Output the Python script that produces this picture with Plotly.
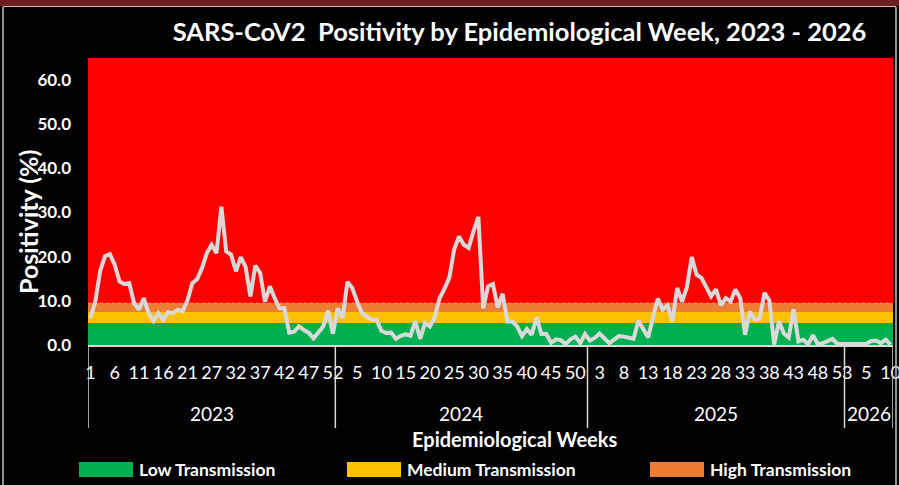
import plotly.graph_objects as go

# ---------------- data ----------------
years = ["2023", "2024", "2025", "2026"]
weeks_2023 = [w for w in range(1, 53) if w != 26]   # week 26 not reported
weeks_2024 = list(range(1, 53))
weeks_2025 = list(range(1, 54))
weeks_2026 = list(range(1, 11))

pos_2023 = [6.1, 9.8, 16.7, 20.1, 20.6, 18.2, 14.4, 13.8, 14.0, 9.5, 8.0, 10.6, 7.2,
            5.5, 7.2, 5.7, 7.4, 7.2, 8.0, 7.6, 10.0, 14.0, 14.9, 17.4, 20.8, 22.7,
            20.8, 31.3, 21.2, 20.5, 16.7, 19.9, 17.7, 11.0, 18.0, 16.3, 9.8, 13.3,
            10.6, 8.3, 8.3, 2.8, 3.0, 4.2, 3.4, 2.8, 1.5, 3.0, 4.2, 7.8, 2.6]
pos_2024 = [8.3, 6.1, 14.3, 12.9, 9.8, 7.2, 6.4, 5.7, 5.7, 3.2, 2.7, 2.8, 1.4, 2.1,
            2.4, 2.1, 5.4, 1.4, 5.0, 4.2, 6.3, 10.6, 12.7, 15.2, 21.6, 24.6, 22.7,
            22.0, 25.8, 29.0, 8.3, 13.3, 13.8, 8.5, 11.6, 5.3, 5.3, 4.2, 2.0, 3.6,
            2.3, 6.3, 2.5, 2.5, 0.5, 1.3, 1.1, 0.2, 1.3, 1.9, 0.4, 2.5]
pos_2025 = [1.0, 1.6, 2.6, 1.4, 0.4, 1.2, 2.0, 1.9, 1.6, 1.4, 5.5, 3.6, 1.7, 6.2,
            10.5, 8.0, 9.0, 5.3, 12.9, 9.8, 13.1, 19.9, 15.9, 15.2, 13.0, 11.0, 12.6,
            9.0, 10.6, 9.8, 12.6, 10.6, 2.3, 7.6, 5.7, 5.9, 11.8, 10.1, 0.1, 5.4, 2.6,
            1.7, 8.1, 0.8, 1.2, 0.2, 2.2, 0.2, 0.4, 0.8, 1.4, 0.3, 0.2]
pos_2026 = [0.2, 0.2, 0.2, 0.2, 0.3, 0.9, 1.0, 0.4, 1.2, 0.1]

band_names = ["Low Transmission", "Medium Transmission", "High Transmission", "Very High"]
band_upper = [5.0, 7.5, 9.5, 65.0]
band_colors = ["#00B050", "#FFC000", "#ED7D31", "#FF0000"]
y_ticks = [0, 10, 20, 30, 40, 50, 60]

# ---------------- assemble ----------------
week_groups = [weeks_2023, weeks_2024, weeks_2025, weeks_2026]
pos_groups = [pos_2023, pos_2024, pos_2025, pos_2026]
week_labels = [w for g in week_groups for w in g]
positivity = [v for g in pos_groups for v in g]
n = len(positivity)
x_idx = list(range(n))
tick_idx = list(range(0, n, 5))
tick_txt = [str(week_labels[i]) for i in tick_idx]

# group boundaries (category index space)
bounds = [-0.5]
for g in week_groups:
    bounds.append(bounds[-1] + len(g))
centers = [(bounds[k] + bounds[k + 1]) / 2 for k in range(len(years))]

W, H = 899, 485
L, R, T, B = 88, 6, 58, 140
PW, PH = W - L - R, H - T - B


def pxx(x):
    return (x - L) / PW


def pxy(y):
    return (H - B - y) / PH


FONT = "Lato"
fig = go.Figure()

# background transmission bands
prev = 0.0
for name, up, col in zip(band_names, band_upper, band_colors):
    h = up - prev
    fig.add_trace(go.Scatter(
        x=[bounds[0], bounds[-1]], y=[h, h], stackgroup="bands", mode="none",
        fillcolor=col, name=name, showlegend=False, hoverinfo="skip"))
    prev = up

# positivity line
fig.add_trace(go.Scatter(
    x=x_idx, y=positivity, mode="lines", name="Positivity",
    line=dict(color="#D9D9D9", width=4), showlegend=False))

shapes = []
# top maroon strip and outer grey frame
shapes.append(dict(type="rect", xref="paper", yref="paper",
                   x0=pxx(0), x1=pxx(W), y0=pxy(0), y1=pxy(6),
                   fillcolor="#6B1E1E", line=dict(width=0), layer="below"))
shapes.append(dict(type="line", xref="paper", yref="paper",
                   x0=pxx(3), x1=pxx(3), y0=pxy(7), y1=pxy(H),
                   line=dict(color="#BFBFBF", width=1.5)))
shapes.append(dict(type="line", xref="paper", yref="paper",
                   x0=pxx(3), x1=pxx(896), y0=pxy(6.5), y1=pxy(6.5),
                   line=dict(color="#BFBFBF", width=1)))
shapes.append(dict(type="line", xref="paper", yref="paper",
                   x0=pxx(896), x1=pxx(896), y0=pxy(7), y1=pxy(H),
                   line=dict(color="#BFBFBF", width=1.5)))
# faint dashed line on the top of the high band
shapes.append(dict(type="line", xref="x", yref="y",
                   x0=bounds[0], x1=bounds[-1], y0=band_upper[2], y1=band_upper[2],
                   line=dict(color="rgba(255,180,150,0.6)", width=1, dash="dot")))
# year group dividers
for bx in bounds:
    shapes.append(dict(type="line", xref="x", yref="paper",
                       x0=bx, x1=bx, y0=0, y1=pxy(428),
                       line=dict(color="#D9D9D9", width=1.5)))

annotations = []
for yr, cx in zip(years, centers):
    annotations.append(dict(x=cx, y=pxy(413), xref="x", yref="paper", text=yr,
                            showarrow=False, xanchor="center", yanchor="middle",
                            font=dict(family=FONT, size=19, color="white")))
annotations.append(dict(x=pxx(514), y=pxy(439), xref="paper", yref="paper",
                        text="<b>Epidemiological Weeks</b>", showarrow=False,
                        xanchor="center", yanchor="middle",
                        font=dict(family=FONT, size=20, color="white")))
# y-axis title
annotations.append(dict(x=pxx(28), y=pxy(222), xref="paper", yref="paper",
                        text="<b>Positivity (%)</b>", showarrow=False, textangle=-90,
                        xanchor="center", yanchor="middle",
                        font=dict(family=FONT, size=25, color="white")))

# manual legend (Excel style wide swatches)
leg_x = [79, 347, 650]
for name, col, lx in zip(band_names[:3], band_colors[:3], leg_x):
    shapes.append(dict(type="rect", xref="paper", yref="paper",
                       x0=pxx(lx), x1=pxx(lx + 54), y0=pxy(462), y1=pxy(477),
                       fillcolor=col, line=dict(width=0)))
    annotations.append(dict(x=pxx(lx + 58), y=pxy(469.5), xref="paper", yref="paper",
                            text="<b>" + name + "</b>", showarrow=False,
                            xanchor="left", yanchor="middle",
                            font=dict(family=FONT, size=17.5, color="white")))

fig.update_layout(
    width=W, height=H,
    margin=dict(l=L, r=R, t=T, b=B, pad=0, autoexpand=False),
    paper_bgcolor="black", plot_bgcolor="black",
    title=dict(text="<b>SARS-CoV2  Positivity by Epidemiological Week, 2023 - 2026</b>",
               x=519.5 / W, xanchor="center", y=1 - 32 / H, yanchor="middle",
               xref="container", yref="container",
               font=dict(family=FONT, size=25.5, color="white")),
    xaxis=dict(range=[bounds[0], bounds[-1]], tickmode="array",
               tickvals=tick_idx, ticktext=tick_txt, showgrid=False, zeroline=False,
               showline=True, linecolor="#D9D9D9", linewidth=2, ticks="",
               ticklabelstandoff=10, ticklabeloverflow="allow", automargin=False,
               tickfont=dict(family=FONT, size=18, color="white")),
    yaxis=dict(range=[0, 65], tickmode="array", tickvals=y_ticks, tickformat=".1f",
               showgrid=False, zeroline=False, showline=False, ticks="",
               ticklabelstandoff=16, automargin=False,
               tickfont=dict(family=FONT, size=17, color="white", weight="bold")),
    shapes=shapes, annotations=annotations, showlegend=False,
)

fig.write_html("out.html", config={"displayModeBar": False},
               post_script="document.body.style.margin='0';document.body.style.background='black';")
